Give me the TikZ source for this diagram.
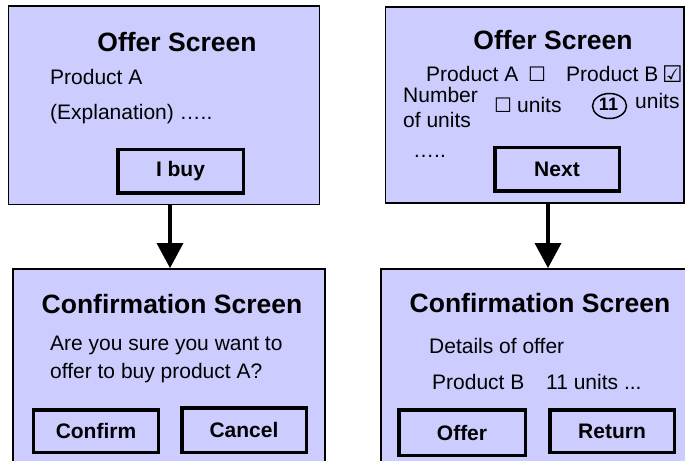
\documentclass[tikz,border=0pt]{standalone}
\usepackage{fontspec}
\setmainfont{Liberation Sans}
\newfontfamily\symfont{DejaVu Sans}
\usetikzlibrary{arrows.meta,shapes.geometric}
\definecolor{screenfill}{HTML}{CCCCFF}
\begin{document}
\begin{tikzpicture}[x=1bp,y=-1bp,
  screen/.style={draw=black, fill=screenfill, line width=1.8bp, rectangle, inner sep=0pt},
  button/.style={draw=black, line width=3.5bp, rectangle, inner sep=0pt,
    font=\fontsize{21bp}{25bp}\selectfont\bfseries},
  title/.style={font=\fontsize{26.5bp}{30bp}\selectfont\bfseries, inner sep=0pt, anchor=base},
  body/.style={font=\fontsize{21bp}{25bp}\selectfont, inner sep=0pt, anchor=base west},
  sym/.style={font=\fontsize{20bp}{24bp}\symfont, inner sep=0pt, anchor=base west},
  flow/.style={line width=3.5bp, -{Triangle[width=26bp,length=25bp]}}
]
\clip (0,0) rectangle (685,461);

% screens
\node[screen, minimum width=311bp, minimum height=198.5bp] (s1) at (164,105.25) {};
\node[screen, minimum width=298.5bp, minimum height=196bp] (s2) at (534.75,105) {};
\node[screen, minimum width=312bp, minimum height=211bp] (s3) at (169,374.5) {};
\node[screen, minimum width=319bp, minimum height=211bp] (s4) at (540.5,374.5) {};

% arrows
\draw[flow] ([xshift=6bp]s1.south) -- ([xshift=6bp]s1.south |- s3.north);
\draw[flow] ([xshift=13.25bp]s2.south) -- ([xshift=13.25bp]s2.south |- s4.north);

% top-left screen
\node[title] (t1) at (177,52) {Offer Screen};
\node[body] (t1a) at (50,85) {Product A};
\node[body] (t1b) at (50,120) {(Explanation) …..};
\node[button, minimum width=125.5bp, minimum height=43.5bp] (b1) at (180.5,171.5) {I buy};

% top-right screen
\node[title] (t2) at (553,50) {Offer Screen};
\node[body] (t2a) at (426,82) {Product A};
\node[sym] (c1) at (528,82) {☐};
\node[body] (t2b) at (566,82) {Product B};
\node[sym, font=\fontsize{23bp}{26bp}\symfont] (c2) at (662,82.5) {☑};
\node[body] (t2c) at (403,103) {Number};
\node[body] (t2d) at (403,128) {of units};
\node[sym] (c3) at (494,113) {☐};
\node[body] (t2e) at (517,113) {units};
\node[ellipse, draw=black, line width=1.5bp, minimum width=34bp, minimum height=25bp, inner sep=0pt] (ring) at (609.5,106) {};
\node[font=\fontsize{18bp}{20bp}\selectfont\bfseries, inner sep=0pt, anchor=base] (n11) at (608.5,110.5) {11};
\node[body] (t2f) at (635,109) {units};
\node[body] (t2g) at (413,158) {…..};
\node[button, minimum width=124.5bp, minimum height=43.5bp] (b2) at (557,169.5) {Next};

% bottom-left screen
\node[title] (t3) at (172,314) {Confirmation Screen};
\node[body] (t3a) at (50,350) {Are you sure you want to};
\node[body] (t3b) at (50,378) {offer to buy product A?};
\node[button, minimum width=124.5bp, minimum height=42.5bp] (b3) at (96,431) {Confirm};
\node[button, minimum width=124.5bp, minimum height=44.5bp] (b4) at (244,430) {Cancel};

% bottom-right screen
\node[title] (t4) at (540,313) {Confirmation Screen};
\node[body] (t4a) at (429,353) {Details of offer};
\node[body] (t4b) at (432,389) {Product B};
\node[body] (t4c) at (546,389) {11 units ...};
\node[button, minimum width=126.5bp, minimum height=45.5bp] (b5) at (462,432.5) {Offer};
\node[button, minimum width=124.5bp, minimum height=42.5bp] (b6) at (612,431) {Return};
\end{tikzpicture}
\end{document}
